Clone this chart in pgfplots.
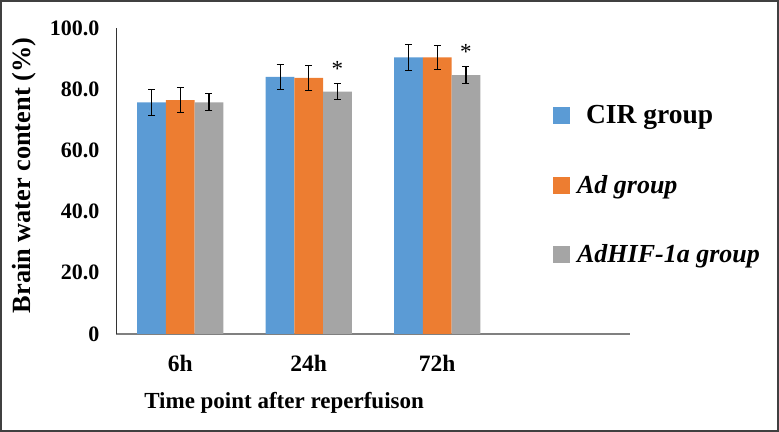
\documentclass[border=0pt]{standalone}
\usepackage{fontspec}
\setmainfont{Liberation Serif}
\usepackage{pgfplots}
\pgfplotsset{compat=1.18}
\usepackage{pgfplotstable}

\definecolor{cirblue}{HTML}{5B9BD5}
\definecolor{adorange}{HTML}{ED7D31}
\definecolor{hifgray}{HTML}{A5A5A5}

% x: 0=6h, 1=24h, 2=72h ; y = mean, e = error
\pgfplotstableread{
x y e
0 75.7 4.3
1 84.0 4.2
2 90.4 4.2
}\cirdata
\pgfplotstableread{
x y e
0 76.4 4.1
1 83.7 4.1
2 90.4 4.0
}\addata
\pgfplotstableread{
x y e s
0 75.7 2.8 {}
1 79.2 2.7 *
2 84.6 2.8 *
}\hifdata

\pgfplotsset{
  errs/.style={
    error bars/y dir=both, error bars/y explicit,
    error bars/error bar style={black, line width=1.1bp},
    error bars/error mark options={rotate=90, black, mark size=3.5bp, line width=1.1bp},
  },
}

\begin{document}
\begin{tikzpicture}
\useasboundingbox (0bp,0bp) rectangle (779bp,432bp);
\draw[line width=2bp, black!75] (1bp,1bp) rectangle (778bp,431bp);
\begin{axis}[
  at={(116bp,98bp)}, anchor=south west,
  scale only axis, width=514bp, height=306bp,
  ybar=0pt, bar width=28.7bp,
  xmin=-0.5, xmax=3.5, ymin=0, ymax=100,
  axis x line*=bottom, axis y line*=left,
  x axis line style={-, draw=gray, line width=1.6bp},
  y axis line style={-, draw=black!80, line width=0.9bp},
  xtick={0,1,2}, xticklabels={6h,24h,72h},
  ytick={0,20,40,60,80,100},
  yticklabels={0,20.0,40.0,60.0,80.0,100.0},
  major tick length=0pt,
  xticklabel style={font=\bfseries\fontsize{23.5bp}{27bp}\selectfont, yshift=-18bp},
  yticklabel style={font=\bfseries\fontsize{22bp}{26bp}\selectfont, xshift=-13bp},
  xlabel={Time point after reperfuison},
  xlabel style={font=\bfseries\fontsize{23bp}{27bp}\selectfont,
    at={(axis description cs:0.327,-0.226)}, anchor=center},
  ylabel={Brain water content (\%)},
  ylabel style={font=\bfseries\fontsize{26.3bp}{30bp}\selectfont,
    at={(axis description cs:-0.179,0.518)}, anchor=center},
  legend image code/.code={\fill[#1,draw=none] (0bp,-8.5bp) rectangle (17bp,8.5bp);},
  legend style={at={(axis description cs:0.85,0.487)}, anchor=west,
    draw=none, fill=none, inner sep=0pt, row sep=46bp,
    font=\bfseries\fontsize{27.5bp}{31bp}\selectfont},
  legend cell align=left,
]
\addplot[fill=cirblue, draw=none, errs]
  table[x=x, y=y, y error=e] {\cirdata};
\addlegendentry{\hspace{14bp}CIR group}
\addplot[fill=adorange, draw=none, errs]
  table[x=x, y=y, y error=e] {\addata};
\addlegendentry{\hspace{5bp}\fontsize{26bp}{31bp}\selectfont\textit{Ad group}}
\addplot[fill=hifgray, draw=none, errs,
  nodes near coords, point meta=explicit symbolic,
  every node near coord/.append style={text=black, fill=none, draw=none,
    font=\fontsize{23bp}{26bp}\selectfont, yshift=12bp}]
  table[x=x, y=y, y error=e, meta=s] {\hifdata};
\addlegendentry{\hspace{5bp}\fontsize{26bp}{31bp}\selectfont\textit{AdHIF-1a group}}
\end{axis}
\end{tikzpicture}
\end{document}
